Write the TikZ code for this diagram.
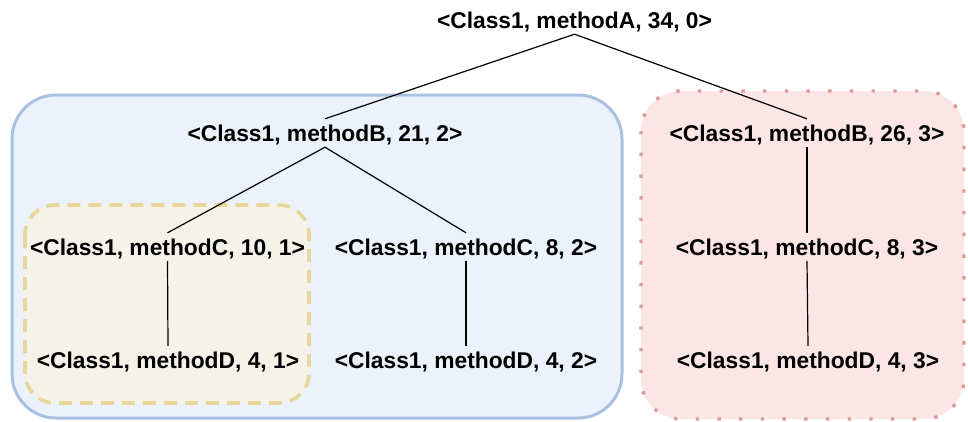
\documentclass[tikz,border=0pt]{standalone}
\usepackage{fontspec}
\setmainfont{Liberation Sans}
\begin{document}
\begin{tikzpicture}[x=1pt,y=-1pt,
  call/.style={font=\fontsize{22.8}{27}\selectfont\bfseries, inner sep=0pt,
    text height=16pt, text depth=0pt, minimum height=28pt},
  edge/.style={draw=black, line width=1.2pt},
  groupbox/.style={line width=3pt}
]
\definecolor{blueFill}{HTML}{EBF2FC}
\definecolor{blueLine}{HTML}{A9C1E0}
\definecolor{sandFill}{HTML}{F5F3E7}
\definecolor{sandLine}{HTML}{E8D79D}
\definecolor{roseFill}{HTML}{FCE5E5}
\definecolor{roseLine}{HTML}{D99C9C}

\useasboundingbox (0,0) rectangle (968,421);

% group frames
\draw[groupbox, fill=blueFill, draw=blueLine, rounded corners=44pt]
  (12,95) rectangle (622,418);
\draw[groupbox, line width=3.6pt, fill=sandFill, draw=sandLine, rounded corners=30pt,
  dash pattern=on 13pt off 8pt] (25,205) rectangle (309,403);
\draw[groupbox, line width=3.4pt, fill=roseFill, draw=roseLine, rounded corners=40pt,
  dash pattern=on 3.4pt off 18.3pt] (641,91) rectangle (964,419);

% call-tree nodes
\node[call] (a)  at (574.5,20)  {<Class1, methodA, 34, 0>};
\node[call] (b1) at (325,133)   {<Class1, methodB, 21, 2>};
\node[call] (b2) at (807,133)   {<Class1, methodB, 26, 3>};
\node[call] (c1) at (167.5,247) {<Class1, methodC, 10, 1>};
\node[call] (c2) at (466,247)   {<Class1, methodC, 8, 2>};
\node[call] (c3) at (807,247)   {<Class1, methodC, 8, 3>};
\node[call] (d1) at (168,360)   {<Class1, methodD, 4, 1>};
\node[call] (d2) at (466,360)   {<Class1, methodD, 4, 2>};
\node[call] (d3) at (808,360)   {<Class1, methodD, 4, 3>};

% edges
\draw[edge] (a.south) -- (b1.north);
\draw[edge] (a.south) -- (b2.north);
\draw[edge] (b1.south) -- (c1.north);
\draw[edge] (b1.south) -- (c2.north);
\draw[edge] (b2.south) -- (c3.north);
\draw[edge] (c1.south) -- (d1.north);
\draw[edge] (c2.south) -- (d2.north);
\draw[edge] (c3.south) -- (d3.north);
\end{tikzpicture}
\end{document}
